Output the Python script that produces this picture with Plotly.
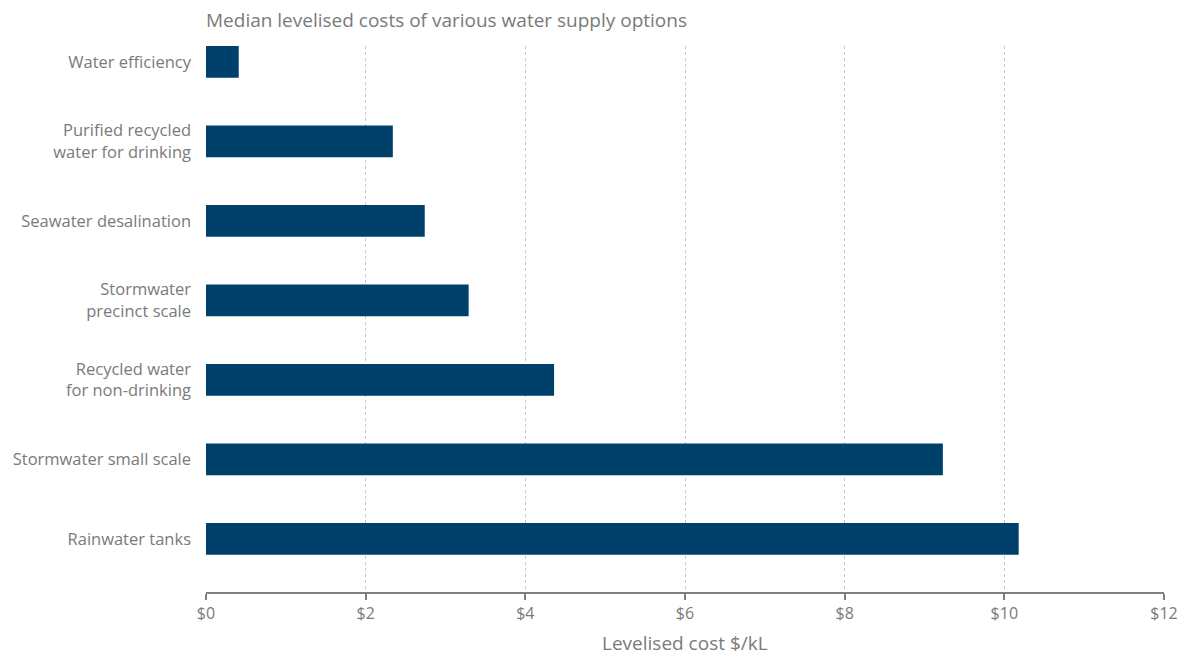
import plotly.graph_objects as go

categories = [
    "Water efficiency",
    "Purified recycled<br>water for drinking",
    "Seawater desalination",
    "Stormwater<br>precinct scale",
    "Recycled water<br>for non-drinking",
    "Stormwater small scale",
    "Rainwater tanks",
]
costs = [0.41, 2.34, 2.74, 3.29, 4.36, 9.23, 10.18]
tick_vals = [0, 2, 4, 6, 8, 10, 12]
tick_text = ["$0", "$2", "$4", "$6", "$8", "$10", "$12"]

FONT = "'Open Sans', Lato, sans-serif"
GREY = "#7a7a7a"
W, H = 1182, 649
L, R, T, B = 198, 26, 38, 65

fig = go.Figure(go.Bar(
    x=costs, y=categories, orientation="h",
    marker=dict(color="#00416c", line=dict(width=0)),
    width=0.4, hoverinfo="x+y",
))

fig.update_layout(
    width=W, height=H,
    margin=dict(l=L, r=R, t=T, b=B, autoexpand=False),
    paper_bgcolor="white", plot_bgcolor="white",
    showlegend=False,
    font=dict(family=FONT, color=GREY, size=15),
    title=dict(text="Median levelised costs of various water supply options",
               x=L/W, xanchor="left", y=1 - 12/H, yanchor="middle",
               font=dict(size=19, color=GREY, family=FONT)),
    xaxis=dict(
        range=[0, 12], tickvals=tick_vals, ticktext=tick_text,
        showgrid=True, gridcolor="#c8c8c8", griddash="dot", gridwidth=1,
        zeroline=False, automargin=False,
        showline=True, linecolor="#808080", linewidth=1.5,
        ticks="outside", ticklen=6, tickcolor="#808080", tickwidth=1.5,
        tickfont=dict(size=16, color=GREY),
        fixedrange=True,
    ),
    yaxis=dict(
        type="category", categoryorder="array", categoryarray=categories,
        range=[6.667, -0.2], automargin=False,
        showgrid=False, zeroline=False, showline=False,
        ticks="", ticklabelstandoff=14,
        tickfont=dict(size=16.5, color=GREY),
        fixedrange=True,
    ),
    annotations=[dict(
        text="Levelised cost $/kL", xref="paper", yref="paper",
        x=0.5, y=-(635 - (H - B)) / (H - T - B), xanchor="center", yanchor="middle",
        showarrow=False, borderpad=0, font=dict(size=19, color=GREY, family=FONT),
    )],
)

fig.write_html("out.html")
